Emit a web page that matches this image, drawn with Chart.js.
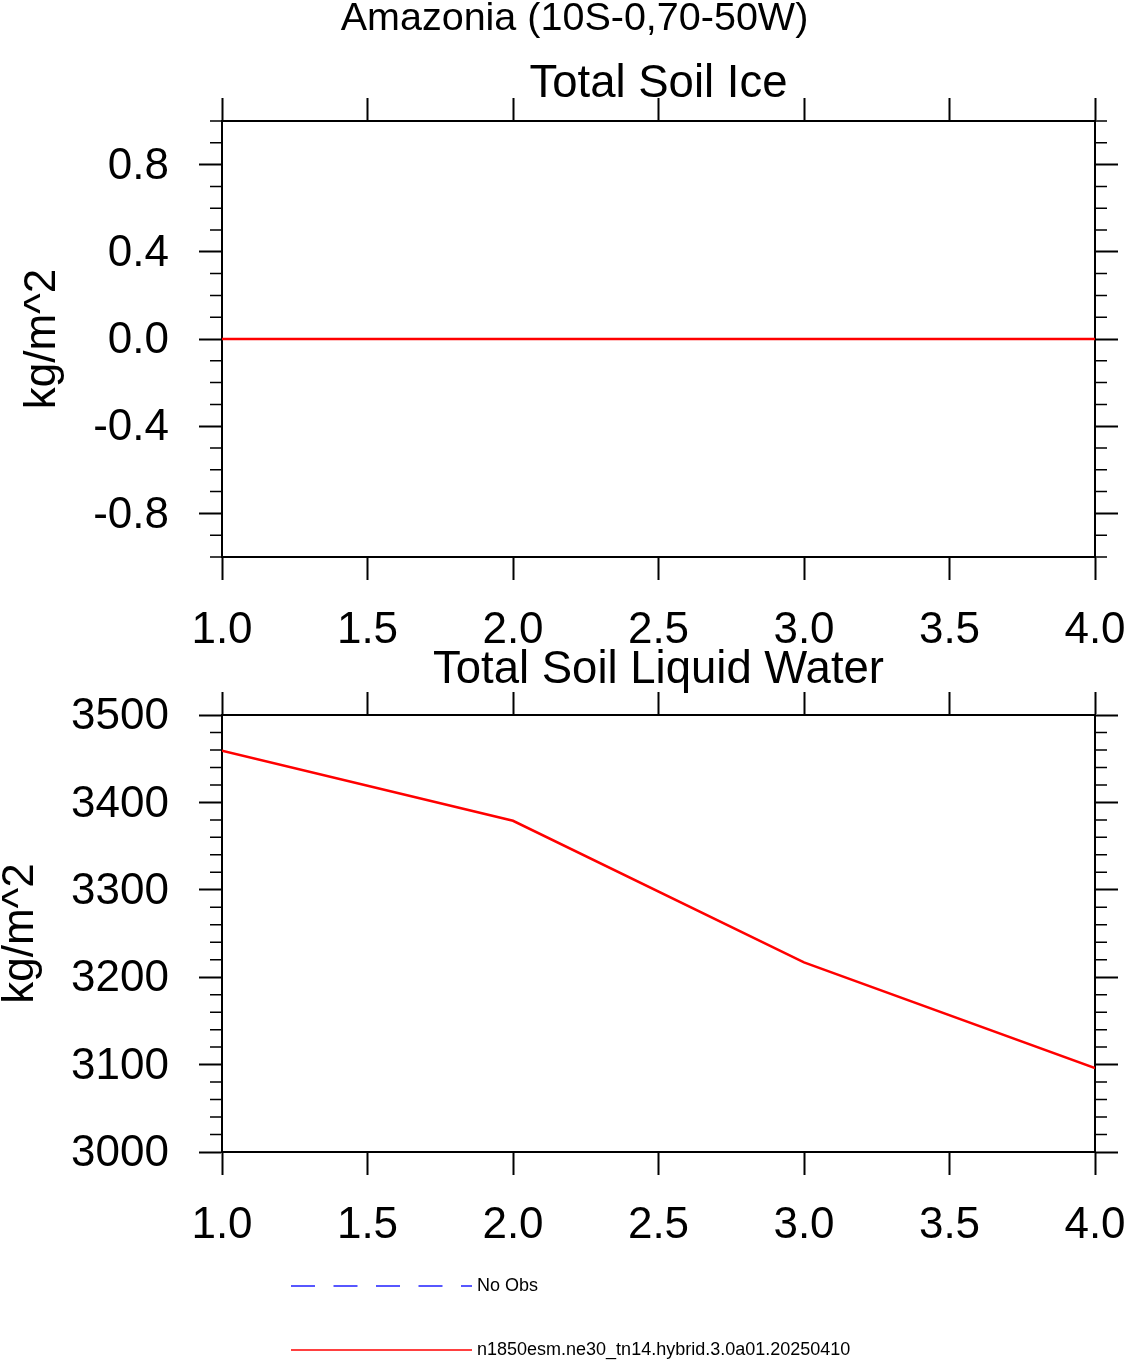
<!DOCTYPE html>
<html><head><meta charset="utf-8">
<script src="https://cdn.jsdelivr.net/npm/chart.js@4.4.1/dist/chart.umd.min.js"></script>
<style>
html,body{margin:0;padding:0;background:#fff;}
#wrap{position:relative;width:1125px;height:1360px;overflow:hidden;}
canvas{position:absolute;left:0;top:0;}
</style></head><body>
<div id="wrap"><canvas id="c1" width="1125" height="1360"></canvas><canvas id="c2" width="1125" height="1360"></canvas></div>
<script>
// ---- data ----
const mainTitle = 'Amazonia (10S-0,70-50W)';
const panelTitles = ['Total Soil Ice', 'Total Soil Liquid Water'];
const unitsLabel = 'kg/m^2';
const seriesLabels = ['No Obs', 'n1850esm.ne30_tn14.hybrid.3.0a01.20250410'];
const xValues = [1, 2, 3, 4];
const iceValues = [0, 0, 0, 0];
const liquidValues = [3459, 3379, 3217, 3096];
const obsValues = [];
const xTicks = [1.0, 1.5, 2.0, 2.5, 3.0, 3.5, 4.0];
const iceTicks = [-0.8, -0.4, 0.0, 0.4, 0.8];
const liquidTicks = [3000, 3100, 3200, 3300, 3400, 3500];
const xRange = [1, 4];
const iceRange = [-1, 1];
const liquidRange = [3000, 3500];
const iceMinorStep = 0.1;
const liquidMinorStep = 20;

const FONT = "'Liberation Sans', Arial, Helvetica, sans-serif";
const W = 1125, H = 1360;

const decor = {
  id: 'decor',
  afterDraw(chart, args, o) {
    const ctx = chart.ctx, a = chart.chartArea;
    ctx.save();
    // minor ticks on left and right
    const ys = chart.scales.y;
    ctx.strokeStyle = '#000';
    ctx.lineWidth = 1.5;
    const n = Math.round((ys.max - ys.min) / o.minorStep);
    ctx.beginPath();
    for (let i = 0; i <= n; i++) {
      const v = ys.min + i * o.minorStep;
      if (o.majors.some(m => Math.abs(m - v) < o.minorStep * 1e-3)) continue;
      const p = ys.getPixelForValue(v);
      ctx.moveTo(a.left - 12, p); ctx.lineTo(a.left, p);
      ctx.moveTo(a.right, p); ctx.lineTo(a.right + 12, p);
    }
    ctx.stroke();
    ctx.fillStyle = '#000';
    ctx.textAlign = 'center';
    ctx.textBaseline = 'alphabetic';
    if (o.mainTitle) {
      ctx.font = '39.5px ' + FONT;
      ctx.fillText(o.mainTitle, o.mainTitleX, o.mainTitleY);
    }
    ctx.font = '45.5px ' + FONT;
    ctx.fillText(o.title, (a.left + a.right) / 2, o.titleY);
    // y axis title
    ctx.save();
    ctx.translate(o.yTitleX, (a.top + a.bottom) / 2);
    ctx.rotate(-Math.PI / 2);
    ctx.font = '44px ' + FONT;
    ctx.fillText(o.yTitle, 0, 0);
    ctx.restore();
    // legend
    if (o.legend) {
      chart.data.datasets.forEach((ds, i) => {
        const y = o.legend.y[i];
        ctx.save();
        ctx.strokeStyle = ds.borderColor;
        ctx.lineWidth = 1.5;
        ctx.setLineDash(ds.borderDash || []);
        ctx.beginPath();
        ctx.moveTo(o.legend.x0, y); ctx.lineTo(o.legend.x1, y);
        ctx.stroke();
        ctx.restore();
        ctx.font = '18px ' + FONT;
        ctx.textAlign = 'left';
        ctx.textBaseline = 'middle';
        ctx.fillText(ds.label, o.legend.tx, y);
      });
    }
    ctx.restore();
  }
};

function axisGrid() {
  return { display: true, drawOnChartArea: false, drawTicks: true, tickLength: 23, tickWidth: 2, tickColor: '#000' };
}
function axisBorder() { return { display: true, color: '#000', width: 2 }; }
function fixTicks(list) { return s => { s.ticks = list.map(v => ({ value: v })); }; }
function zeroPad(s) { s.paddingLeft = 0; s.paddingRight = 0; s.paddingTop = 0; s.paddingBottom = 0; }

function makeChart(id, p) {
  return new Chart(document.getElementById(id), {
    type: 'line',
    data: {
      datasets: p.datasets
    },
    options: {
      responsive: false,
      animation: false,
      devicePixelRatio: 1,
      layout: { padding: 0, autoPadding: false },
      plugins: { legend: { display: false }, title: { display: false }, tooltip: { enabled: false }, decor: p.decor },
      elements: { point: { radius: 0 }, line: { tension: 0 } },
      scales: {
        x: {
          type: 'linear', position: 'bottom', min: xRange[0], max: xRange[1],
          afterBuildTicks: fixTicks(xTicks),
          ticks: { callback: v => Number(v).toFixed(1), font: { family: FONT, size: 44, lineHeight: 1 }, color: '#000', padding: 29, maxRotation: 0, autoSkip: false },
          grid: axisGrid(), border: axisBorder(),
          afterFit: s => { s.height = H - p.bottom; zeroPad(s); }
        },
        xTop: {
          type: 'linear', position: 'top', min: xRange[0], max: xRange[1],
          afterBuildTicks: fixTicks(xTicks),
          ticks: { display: false },
          grid: axisGrid(), border: axisBorder(),
          afterFit: s => { s.height = p.top; zeroPad(s); }
        },
        y: {
          type: 'linear', position: 'left', min: p.range[0], max: p.range[1],
          afterBuildTicks: fixTicks(p.ticks),
          ticks: { callback: p.fmt, font: { family: FONT, size: 44, lineHeight: 1 }, color: '#000', padding: 30, labelOffset: 2, autoSkip: false },
          grid: axisGrid(), border: axisBorder(),
          afterFit: s => { s.width = 222; zeroPad(s); }
        },
        yRight: {
          type: 'linear', position: 'right', min: p.range[0], max: p.range[1],
          afterBuildTicks: fixTicks(p.ticks),
          ticks: { display: false },
          grid: axisGrid(), border: axisBorder(),
          afterFit: s => { s.width = W - 1095; zeroPad(s); }
        }
      }
    },
    plugins: [decor]
  });
}

const pts = vals => xValues.map((x, i) => ({ x: x, y: vals[i] }));

makeChart('c1', {
  top: 121, bottom: 557,
  range: iceRange, ticks: iceTicks,
  fmt: v => Number(v).toFixed(1),
  datasets: [
    { label: seriesLabels[1], data: pts(iceValues), borderColor: '#ff0000', borderWidth: 2.5, xAxisID: 'x', yAxisID: 'y', fill: false }
  ],
  decor: {
    minorStep: iceMinorStep, majors: iceTicks,
    mainTitle: mainTitle, mainTitleX: 574.5, mainTitleY: 30,
    title: panelTitles[0], titleY: 97,
    yTitle: unitsLabel, yTitleX: 55
  }
});

makeChart('c2', {
  top: 715, bottom: 1152,
  range: liquidRange, ticks: liquidTicks,
  fmt: v => String(Math.round(v)),
  datasets: [
    { label: seriesLabels[0], data: obsValues, borderColor: '#2020ff', borderDash: [24, 18.5], borderWidth: 1.5, xAxisID: 'x', yAxisID: 'y', fill: false },
    { label: seriesLabels[1], data: pts(liquidValues), borderColor: '#ff0000', borderWidth: 2.5, xAxisID: 'x', yAxisID: 'y', fill: false }
  ],
  decor: {
    minorStep: liquidMinorStep, majors: liquidTicks,
    title: panelTitles[1], titleY: 683,
    yTitle: unitsLabel, yTitleX: 33,
    legend: { x0: 291, x1: 472, tx: 477, y: [1286, 1350] }
  }
});
</script>
</body></html>
